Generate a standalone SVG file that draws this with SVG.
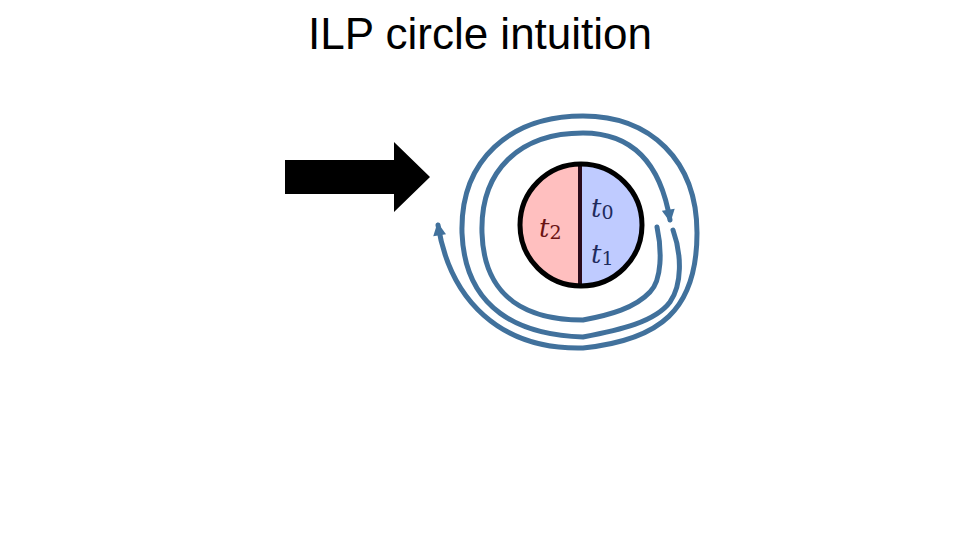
<svg xmlns="http://www.w3.org/2000/svg" width="960" height="540" viewBox="0 0 960 540">
  <style>
    .title { font-family: "Liberation Sans", Arial, sans-serif; font-size: 44px; fill: #000; }
    .math { font-family: "DejaVu Serif", "Liberation Serif", serif; font-style: italic; font-size: 26px; }
    .sub { font-style: normal; font-size: 19px; }
    .loop { fill: none; stroke: #41719c; stroke-width: 5; stroke-linecap: round; stroke-linejoin: round; }
  </style>
  <defs>
    <marker id="ah" viewBox="0 0 10 10" refX="8" refY="5" markerWidth="2.8" markerHeight="2.6" orient="auto" markerUnits="strokeWidth">
      <path d="M0,0 L10,5 L0,10 z" fill="#41719c"/>
    </marker>
  </defs>
  <rect width="960" height="540" fill="#ffffff"/>
  <text class="title" x="480" y="49" text-anchor="middle">ILP circle intuition</text>

  <g id="block-arrow">
    <polygon points="285,160 394,160 394,142 430,177 394,212 394,194 285,194" fill="#000"/>
  </g>

  <g id="circle-node">
    <path d="M580,164 A61,61 0 0 0 580,286 Z" fill="#ffbfbf"/>
    <path d="M580,164 A61,61 0 0 1 580,286 Z" fill="#bfcbff"/>
    <line x1="580" y1="164" x2="580" y2="286" stroke="#2a0a1a" stroke-width="4"/>
    <circle cx="581" cy="225" r="61" fill="none" stroke="#000" stroke-width="5"/>
    <text class="math" x="539" y="237" fill="#6b1414">t<tspan class="sub" dy="2">2</tspan></text>
    <text class="math" x="591" y="217" fill="#1f2b5e">t<tspan class="sub" dy="2">0</tspan></text>
    <text class="math" x="591" y="263" fill="#1f2b5e">t<tspan class="sub" dy="2">1</tspan></text>
  </g>

  <g id="connectors">
    <path class="loop" marker-end="url(#ah)" d="M657,227 C662,250 662,280 650,292 C635,308 610,315 583,320 C530,320 484,300 482,233 C480,170 520,133 583,133 C630,133 660,160 670,220"/>
    <path class="loop" marker-end="url(#ah)" d="M673,230 C682,255 682,285 670,302 C655,322 620,330 583,337 C520,335 465,310 462,233 C460,160 510,116 583,116 C650,116 697,160 697,233 C697,310 660,340 583,348 C500,350 450,300 438,225"/>
  </g>
</svg>
